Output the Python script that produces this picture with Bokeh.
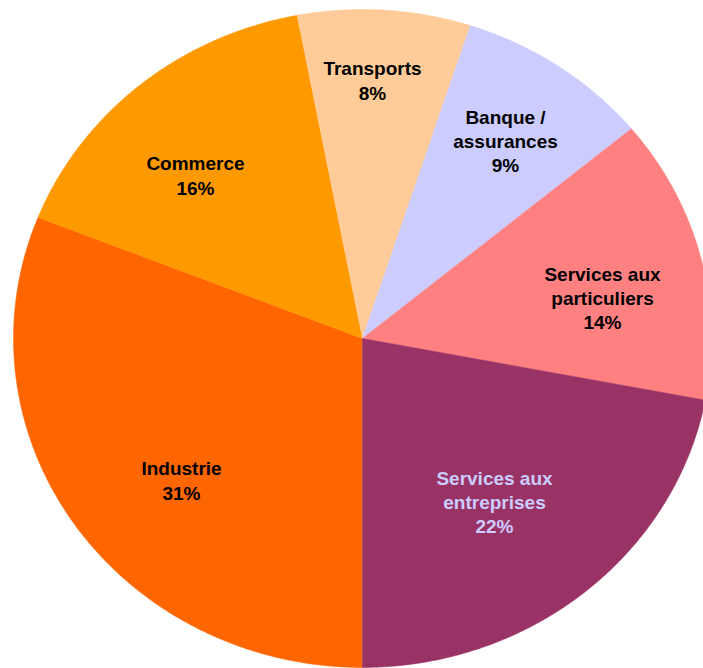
import numpy as np
from bokeh.plotting import figure
from bokeh.models import Range1d, ColumnDataSource
from bokeh.core.properties import value
from bokeh.embed import file_html
from bokeh.resources import INLINE

# ---- data ----
categories = ["Industrie", "Commerce", "Transports", "Banque / assurances",
              "Services aux particuliers", "Services aux entreprises"]
shares = [31, 16, 8, 9, 14, 22]
label_names = ["Industrie", "Commerce", "Transports", "Banque /\nassurances",
               "Services aux\nparticuliers", "Services aux\nentreprises"]

# ---- styles / layout ----
colors = ["#FF6600", "#FF9900", "#FFCC99", "#CCCCFF", "#FF8080", "#993366"]
label_colors = ["#000000", "#000000", "#000000", "#000000", "#000000", "#CCCCFF"]
label_x = [181, 195, 372, 505, 602, 494]
label_y = [187.5, 492.5, 587.5, 527, 370, 166]

W, H = 703, 668
cx, cy = 362, 330
rx, ry = 349, 329
start_deg = -90.0  # slices start at the bottom and run clockwise

vals = np.array(shares, dtype=float)
fracs = vals / vals.sum()
ends = np.cumsum(fracs)
begins = ends - fracs

xs, ys = [], []
for b, e in zip(begins, ends):
    a0 = np.deg2rad(start_deg - 360.0 * b)
    a1 = np.deg2rad(start_deg - 360.0 * e)
    t = np.linspace(a0, a1, 200)
    xs.append(list(np.concatenate([[cx], cx + rx * np.cos(t)])))
    ys.append(list(np.concatenate([[cy], cy + ry * np.sin(t)])))

p = figure(width=W, height=H, output_backend="svg", toolbar_location=None,
           x_range=Range1d(0, W), y_range=Range1d(0, H), min_border=0)
p.axis.visible = False
p.grid.visible = False
p.outline_line_color = None
p.background_fill_color = "white"
p.border_fill_color = "white"

src = ColumnDataSource(dict(xs=xs, ys=ys, color=colors, name=categories))
p.patches("xs", "ys", source=src, fill_color="color", line_color="color",
          line_width=0.5)

texts = [f"{n}\n{v}%" for n, v in zip(label_names, shares)]
lsrc = ColumnDataSource(dict(x=label_x, y=label_y, text=texts, color=label_colors))
p.text("x", "y", text="text", source=lsrc, text_color="color",
       text_font=value("Liberation Sans"), text_font_style="bold",
       text_font_size="19px", text_align="center", text_baseline="middle",
       text_line_height=1.15)

open("out.html", "w").write(file_html(p, INLINE))
